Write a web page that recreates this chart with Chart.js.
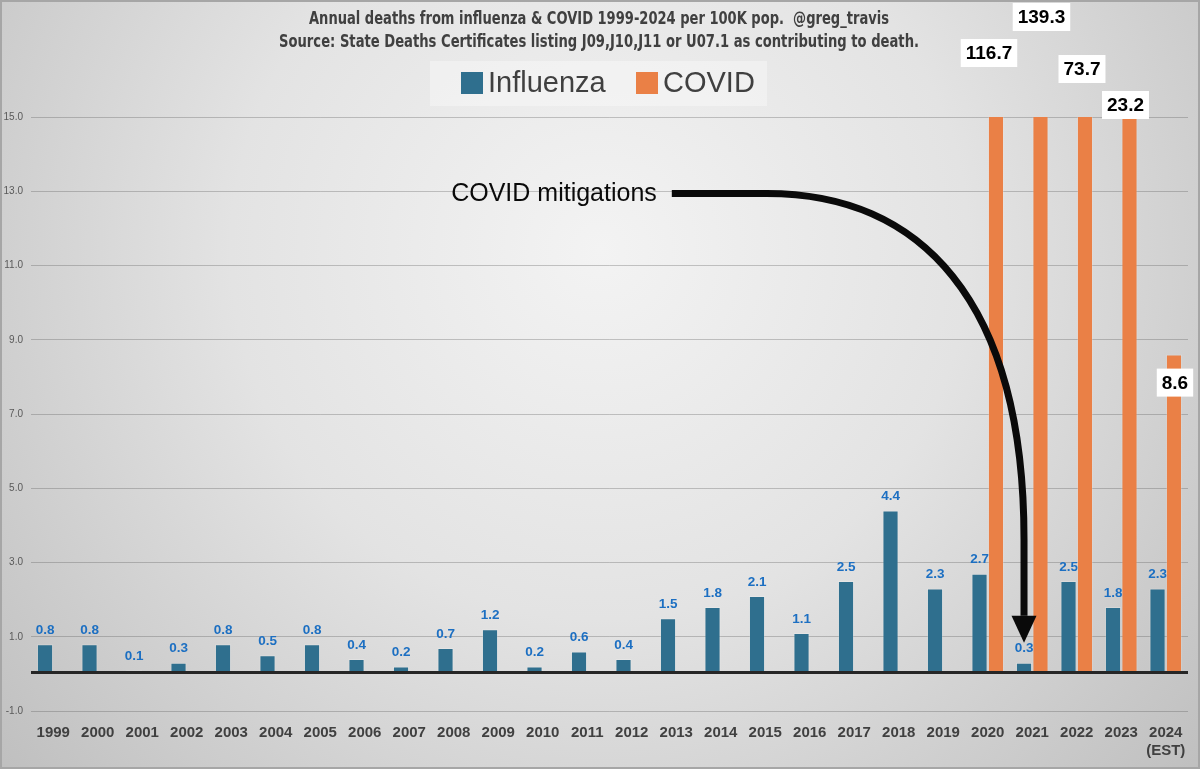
<!DOCTYPE html>
<html>
<head>
<meta charset="utf-8">
<script src="https://cdn.jsdelivr.net/npm/chart.js@4.4.1/dist/chart.umd.min.js"></script>
<style>
  html, body { margin: 0; padding: 0; background: #d6d6d6; }
  #wrap { width: 1200px; height: 769px; }
</style>
</head>
<body>
<div id="wrap"><canvas id="chart" width="1200" height="769"></canvas></div>
<script>
// values (per 100K pop.)
const years = ['1999', '2000', '2001', '2002', '2003', '2004', '2005', '2006', '2007', '2008',
  '2009', '2010', '2011', '2012', '2013', '2014', '2015', '2016', '2017', '2018',
  '2019', '2020', '2021', '2022', '2023', ['2024', '(EST)']];
const influenza = [0.8, 0.8, 0.1, 0.3, 0.8, 0.5, 0.8, 0.4, 0.2, 0.7,
  1.2, 0.2, 0.6, 0.4, 1.5, 1.8, 2.1, 1.1, 2.5, 4.4,
  2.3, 2.7, 0.3, 2.5, 1.8, 2.3];
const covid = [null, null, null, null, null, null, null, null, null, null,
  null, null, null, null, null, null, null, null, null, null,
  null, 116.7, 139.3, 73.7, 23.2, 8.6];
const yMin = -1, yMax = 15, yStep = 2;

const titleLines = [
  'Annual deaths from influenza & COVID 1999-2024 per 100K pop.  @greg_travis',
  'Source: State Deaths Certificates listing J09,J10,J11 or U07.1 as contributing to death.'
];
const arrowText = 'COVID mitigations';

const FLU = '#2f6f8e';
const COV = '#ea8046';
const NARROW = "'Liberation Sans Narrow', 'DejaVu Sans Condensed', 'Liberation Sans', sans-serif";

// squeezed text, to mimic the condensed font of the original
function condensedText(ctx, text, cx, cy, size, targetW) {
  ctx.save();
  ctx.font = 'bold ' + size + 'px ' + NARROW;
  const w = ctx.measureText(text).width;
  const sx = Math.min(1, targetW / w);
  ctx.translate(cx, cy);
  ctx.scale(sx, 1);
  ctx.textAlign = 'center';
  ctx.textBaseline = 'middle';
  ctx.fillText(text, 0, 0);
  ctx.restore();
}

const backdrop = {
  id: 'backdrop',
  beforeDraw(chart) {
    const ctx = chart.ctx;
    const g = ctx.createRadialGradient(600, 250, 0, 600, 250, 820);
    g.addColorStop(0, '#f3f3f3');
    g.addColorStop(0.45, '#e3e3e3');
    g.addColorStop(1, '#bdbdbd');
    ctx.save();
    ctx.fillStyle = g;
    ctx.fillRect(0, 0, chart.width, chart.height);
    ctx.strokeStyle = '#a6a6a6';
    ctx.lineWidth = 2;
    ctx.strokeRect(1, 1, chart.width - 2, chart.height - 2);
    ctx.restore();
  }
};

// influenza value labels go under the COVID bars, as in the original
const fluLabels = {
  id: 'fluLabels',
  beforeDatasetsDraw(chart) {
    const ctx = chart.ctx;
    const meta = chart.getDatasetMeta(0);
    ctx.save();
    ctx.font = "bold 13.5px 'Liberation Sans', sans-serif";
    ctx.fillStyle = '#1c6fc2';
    ctx.textAlign = 'center';
    ctx.textBaseline = 'middle';
    meta.data.forEach((bar, i) => {
      ctx.fillText(influenza[i].toFixed(1), bar.x, bar.y - 14);
    });
    ctx.restore();
  }
};

const extras = {
  id: 'extras',
  afterDatasetsDraw(chart) {
    const ctx = chart.ctx;
    const ys = chart.scales.y;
    const area = chart.chartArea;

    // zero line
    const y0 = ys.getPixelForValue(0) - 1.5;
    ctx.save();
    ctx.strokeStyle = '#262626';
    ctx.lineWidth = 3;
    ctx.beginPath();
    ctx.moveTo(area.left, y0);
    ctx.lineTo(area.right, y0);
    ctx.stroke();

    // annotation arrow, from the text down to the 2021 flu bar
    const tipBar = chart.getDatasetMeta(0).data[22];
    const tx = tipBar.x, ty = tipBar.y - 20;
    const sy = ys.getPixelForValue(12.94);
    const sx = chart.scales.x.getPixelForValue(13.9);
    ctx.strokeStyle = '#0a0a0a';
    ctx.fillStyle = '#0a0a0a';
    ctx.lineWidth = 7;
    ctx.beginPath();
    ctx.moveTo(sx, sy);
    ctx.lineTo(sx + 95, sy);
    ctx.bezierCurveTo(sx + 248, sy, tx, sy + 106, tx, sy + 346);
    ctx.lineTo(tx, ty - 27);
    ctx.stroke();
    ctx.beginPath();
    ctx.moveTo(tx - 12.5, ty - 27);
    ctx.lineTo(tx + 12.5, ty - 27);
    ctx.lineTo(tx, ty);
    ctx.closePath();
    ctx.fill();

    ctx.font = "25px 'Liberation Sans', sans-serif";
    ctx.textAlign = 'right';
    ctx.textBaseline = 'middle';
    ctx.fillText(arrowText, sx - 15, sy + 1);

    // COVID labels on white boxes, moved by hand in the original
    const shift = [[-7, -64], [1, -100], [-3, -48], [-4, -12], [1, 28]];
    const meta = chart.getDatasetMeta(1);
    ctx.font = "bold 19px 'Liberation Sans', sans-serif";
    ctx.textAlign = 'center';
    let k = 0;
    meta.data.forEach((bar, i) => {
      if (covid[i] == null) return;
      const [dx, dy] = shift[k++];
      const cx = bar.x + dx;
      const cy = Math.max(bar.y, area.top) + dy;
      const txt = covid[i].toFixed(1);
      const w = ctx.measureText(txt).width + 10;
      ctx.fillStyle = '#ffffff';
      ctx.fillRect(cx - w / 2, cy - 14, w, 28);
      ctx.fillStyle = '#000000';
      ctx.fillText(txt, cx, cy + 1);
    });
    ctx.restore();
  },
  afterDraw(chart) {
    const ctx = chart.ctx;
    ctx.save();
    // title
    ctx.fillStyle = '#404040';
    condensedText(ctx, titleLines[0], 599, 20, 17, 580);
    condensedText(ctx, titleLines[1], 599, 43, 17, 640);

    // legend
    ctx.fillStyle = 'rgba(255,255,255,0.35)';
    ctx.fillRect(430, 61, 337, 45);
    const items = chart.data.datasets;
    const pos = [461, 636];
    ctx.font = "29px 'Liberation Sans', sans-serif";
    ctx.textAlign = 'left';
    ctx.textBaseline = 'middle';
    items.forEach((ds, i) => {
      ctx.fillStyle = ds.backgroundColor;
      ctx.fillRect(pos[i], 72, 22, 22);
      ctx.fillStyle = '#404040';
      ctx.fillText(ds.label, pos[i] + 27, 84);
    });
    ctx.restore();
  }
};

new Chart(document.getElementById('chart'), {
  type: 'bar',
  data: {
    labels: years,
    datasets: [
      { label: 'Influenza', data: influenza, backgroundColor: FLU,
        borderColor: 'rgba(255,255,255,0.2)', borderWidth: 1 },
      { label: 'COVID', data: covid, backgroundColor: COV,
        borderColor: 'rgba(255,255,255,0.2)', borderWidth: 1 }
    ]
  },
  options: {
    responsive: false,
    animation: false,
    categoryPercentage: 0.74,
    barPercentage: 0.98,
    layout: { padding: { top: 117, right: 12, bottom: 0, left: 0 } },
    plugins: {
      legend: { display: false },
      title: { display: false },
      tooltip: { enabled: false }
    },
    scales: {
      x: {
        grid: { display: false, drawTicks: false },
        border: { display: false },
        ticks: {
          color: '#404040',
          font: { family: "'Liberation Sans', sans-serif", size: 15, weight: 'bold' },
          padding: 13,
          maxRotation: 0,
          autoSkip: false
        },
        afterFit(scale) { scale.height = 58; }
      },
      y: {
        min: yMin,
        max: yMax,
        grid: { color: 'rgba(80,80,80,0.3)', drawTicks: false },
        border: { display: false },
        ticks: {
          stepSize: yStep,
          color: '#595959',
          font: { family: "'Liberation Sans', sans-serif", size: 10 },
          padding: 8,
          callback: v => v.toFixed(1)
        },
        afterFit(scale) { scale.width = 31; }
      }
    }
  },
  plugins: [backdrop, fluLabels, extras]
});
</script>
</body>
</html>
